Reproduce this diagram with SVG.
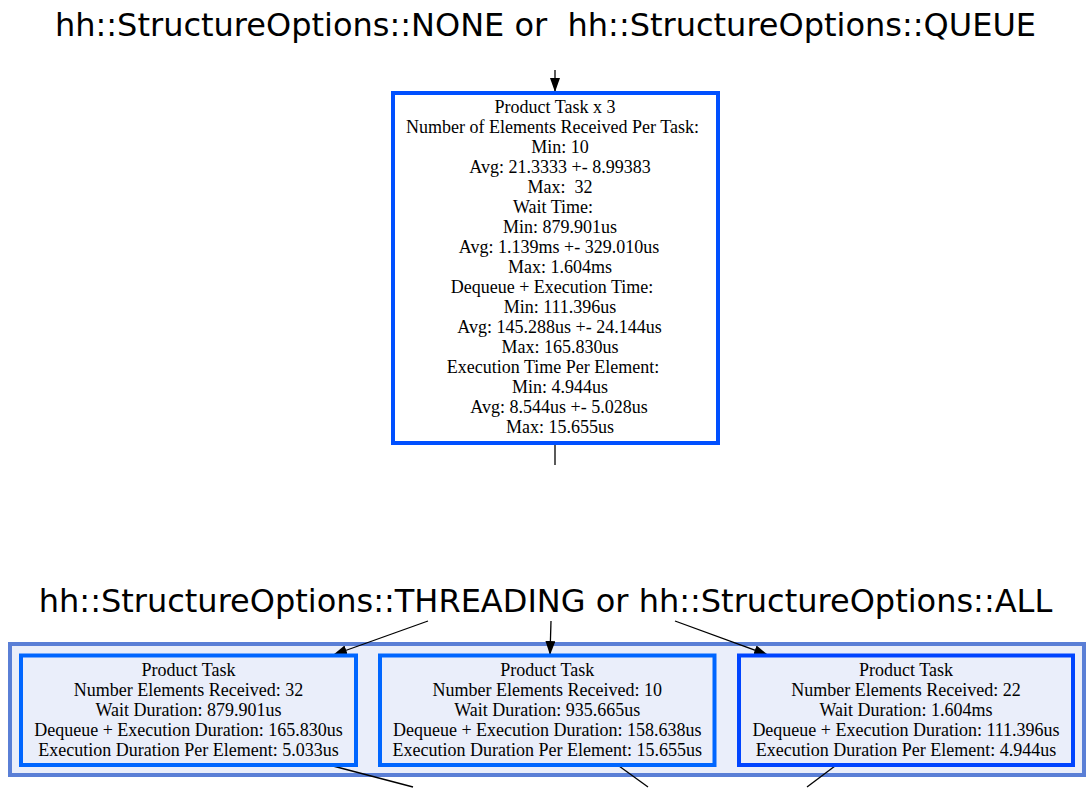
<svg xmlns="http://www.w3.org/2000/svg" width="1090" height="806" viewBox="0 0 1090 806">
<style>
.title{font-family:"DejaVu Sans",sans-serif;font-size:32px;fill:#000;text-anchor:middle;white-space:pre}
.lbl{font-family:"Liberation Serif","Times New Roman",serif;font-size:18px;fill:#000;text-anchor:middle;white-space:pre}
.edge{stroke:#000;stroke-width:1.3;fill:none}
.arr{marker-end:url(#ah)}
</style>
<defs>
<marker id="ah" markerUnits="userSpaceOnUse" markerWidth="15" markerHeight="12" refX="14" refY="5" orient="auto">
<path d="M0,0 L14,5 L0,10 z" fill="#000"/>
</marker>
</defs>
<rect width="1090" height="806" fill="#fff"/>
<g id="cluster">
<rect x="10" y="644" width="1074" height="131" fill="#eaeefa" stroke="#5a7fd6" stroke-width="4"/>
</g>
<g id="connectors">
<line class="edge arr" x1="555" y1="70" x2="555" y2="92"/>
<line class="edge" x1="555" y1="445" x2="555" y2="465"/>
<line class="edge arr" x1="428" y1="621" x2="333" y2="655"/>
<line class="edge arr" x1="551" y1="621" x2="550" y2="655"/>
<line class="edge arr" x1="675" y1="621" x2="768" y2="655"/>
<line class="edge" x1="333" y1="766" x2="413" y2="787"/>
<line class="edge" x1="619" y1="766" x2="648" y2="787"/>
<line class="edge" x1="835" y1="766" x2="807" y2="787"/>
</g>
<g id="title-none-queue">
<text class="title" x="545.5" y="36">hh::StructureOptions::NONE or  hh::StructureOptions::QUEUE</text>
</g>
<g id="product-task-x3">
<rect x="393" y="93" width="325" height="350" fill="#fff" stroke="#0050ff" stroke-width="4"/>
<text class="lbl" x="555" y="113">Product Task x 3</text>
<text class="lbl" x="552.5" y="133">Number of Elements Received Per Task:</text>
<text class="lbl" x="560" y="153">Min: 10</text>
<text class="lbl" x="560" y="173">Avg: 21.3333 +- 8.99383</text>
<text class="lbl" x="560" y="193">Max:  32</text>
<text class="lbl" x="553" y="213">Wait Time:</text>
<text class="lbl" x="560" y="233">Min: 879.901us</text>
<text class="lbl" x="559" y="253">Avg: 1.139ms +- 329.010us</text>
<text class="lbl" x="560" y="273">Max: 1.604ms</text>
<text class="lbl" x="552" y="293">Dequeue + Execution Time:</text>
<text class="lbl" x="560" y="313">Min: 111.396us</text>
<text class="lbl" x="559.5" y="333">Avg: 145.288us +- 24.144us</text>
<text class="lbl" x="560" y="353">Max: 165.830us</text>
<text class="lbl" x="553" y="373">Execution Time Per Element:</text>
<text class="lbl" x="560" y="393">Min: 4.944us</text>
<text class="lbl" x="559" y="413">Avg: 8.544us +- 5.028us</text>
<text class="lbl" x="560" y="433">Max: 15.655us</text>
</g>
<g id="title-threading-all">
<text class="title" x="545.5" y="612">hh::StructureOptions::THREADING or hh::StructureOptions::ALL</text>
</g>
<g id="product-task-1">
<rect x="21" y="655.5" width="335" height="109.5" fill="#eaeefa" stroke="#0066ff" stroke-width="4"/>
<text class="lbl" x="188.5" y="676">Product Task</text>
<text class="lbl" x="188.5" y="696">Number Elements Received: 32</text>
<text class="lbl" x="188.5" y="716">Wait Duration: 879.901us</text>
<text class="lbl" x="188.5" y="736">Dequeue + Execution Duration: 165.830us</text>
<text class="lbl" x="188.5" y="756">Execution Duration Per Element: 5.033us</text>
</g>
<g id="product-task-2">
<rect x="380" y="655.5" width="334.5" height="109.5" fill="#eaeefa" stroke="#0066ff" stroke-width="4"/>
<text class="lbl" x="547.3" y="676">Product Task</text>
<text class="lbl" x="547.3" y="696">Number Elements Received: 10</text>
<text class="lbl" x="547.3" y="716">Wait Duration: 935.665us</text>
<text class="lbl" x="547.3" y="736">Dequeue + Execution Duration: 158.638us</text>
<text class="lbl" x="547.3" y="756">Execution Duration Per Element: 15.655us</text>
</g>
<g id="product-task-3">
<rect x="739" y="655.5" width="334" height="109.5" fill="#eaeefa" stroke="#0044ff" stroke-width="4"/>
<text class="lbl" x="906" y="676">Product Task</text>
<text class="lbl" x="906" y="696">Number Elements Received: 22</text>
<text class="lbl" x="906" y="716">Wait Duration: 1.604ms</text>
<text class="lbl" x="906" y="736">Dequeue + Execution Duration: 111.396us</text>
<text class="lbl" x="906" y="756">Execution Duration Per Element: 4.944us</text>
</g>
</svg>
